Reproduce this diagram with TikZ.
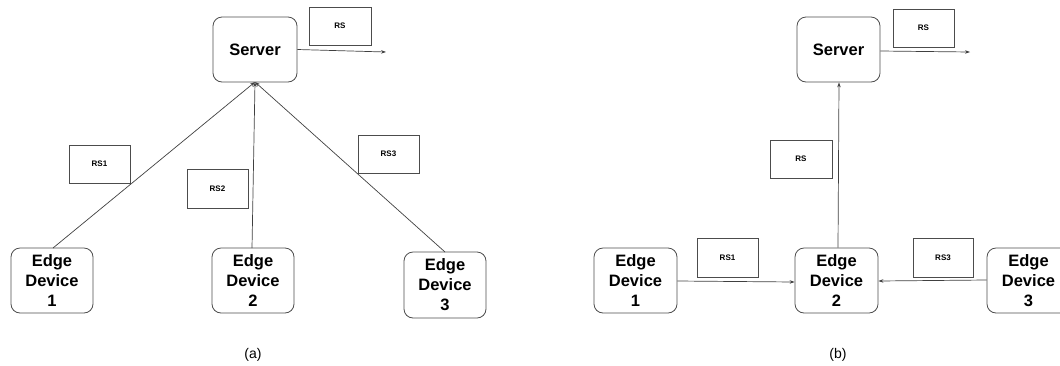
\documentclass[tikz,border=0pt]{standalone}
\usepackage{fontspec}
\setmainfont{Liberation Sans}
\usetikzlibrary{arrows.meta}
\begin{document}
\begin{tikzpicture}[x=1pt,y=-1pt,
  dev/.style={draw=black!70, line width=0.8pt, rounded corners=9pt, align=center, font=\fontsize{16.5}{20}\selectfont\bfseries, inner sep=0pt},
  rsbox/.style={draw=black!70, line width=0.7pt, font=\fontsize{8}{9}\selectfont\bfseries, inner sep=0pt},
  conn/.style={draw=black!75, line width=0.7pt, -{Stealth[length=5pt,width=3.5pt]}},
  captext/.style={font=\fontsize{14}{16}\selectfont}]
\useasboundingbox (0,0) rectangle (1060,365);
\clip (0,0) rectangle (1060,365);
% ---------- (a)
\node[dev, minimum width=84pt, minimum height=65pt] (sa) at (255,49.5) {Server};
\node[rsbox, minimum width=62pt, minimum height=38pt] (rsa) at (340,26) {RS};
\coordinate (outa) at (386,52);
\draw[conn] (sa.east |- 0,49.5) -- (outa);
\node[dev, minimum width=82pt, minimum height=65pt] (a1) at (52,280.5) {Edge\\Device\\1};
\node[dev, minimum width=82pt, minimum height=65pt] (a2) at (253,280.5) {Edge\\Device\\2};
\node[dev, minimum width=82pt, minimum height=66pt] (a3) at (445,285) {Edge\\Device\\3};
\node[rsbox, minimum width=61pt, minimum height=38pt] (rs1a) at (99.5,164) {RS1};
\node[rsbox, minimum width=61pt, minimum height=39pt] (rs2a) at (217.5,188.5) {RS2};
\node[rsbox, minimum width=61pt, minimum height=38pt] (rs3a) at (388.5,154) {RS3};
\coordinate (sab) at (255,82);
\draw[conn] (53,248) -- (sab);
\draw[conn] (252,248) -- (sab);
\draw[conn] (445,252) -- (sab);
\node[captext] (capa) at (253,355) {(a)};
% ---------- (b)
\node[dev, minimum width=83pt, minimum height=65pt] (sb) at (838.5,49.5) {Server};
\node[rsbox, minimum width=61pt, minimum height=38pt] (rsb) at (923.5,28) {RS};
\coordinate (outb) at (970,52);
\draw[conn] (sb.east |- 0,51) -- (outb);
\node[rsbox, minimum width=62pt, minimum height=38pt] (rsm) at (801,159) {RS};
\node[dev, minimum width=83pt, minimum height=65pt] (b1) at (635.5,280.5) {Edge\\Device\\1};
\node[dev, minimum width=83pt, minimum height=65pt] (b2) at (836.5,280.5) {Edge\\Device\\2};
\node[dev, minimum width=83pt, minimum height=65pt] (b3) at (1028.5,280.5) {Edge\\Device\\3};
\node[rsbox, minimum width=61pt, minimum height=39pt] (rs1b) at (727.5,257.5) {RS1};
\node[rsbox, minimum width=60pt, minimum height=39pt] (rs3b) at (943,257.5) {RS3};
\draw[conn] (b2.north -| 838,0) -- (sb.south -| 839,0);
\draw[conn] (b1.east |- 0,281) -- (b2.west |- 0,282);
\draw[conn] (b3.west |- 0,280) -- (b2.east |- 0,281);
\node[captext] (capb) at (838,355) {(b)};
\end{tikzpicture}
\end{document}
